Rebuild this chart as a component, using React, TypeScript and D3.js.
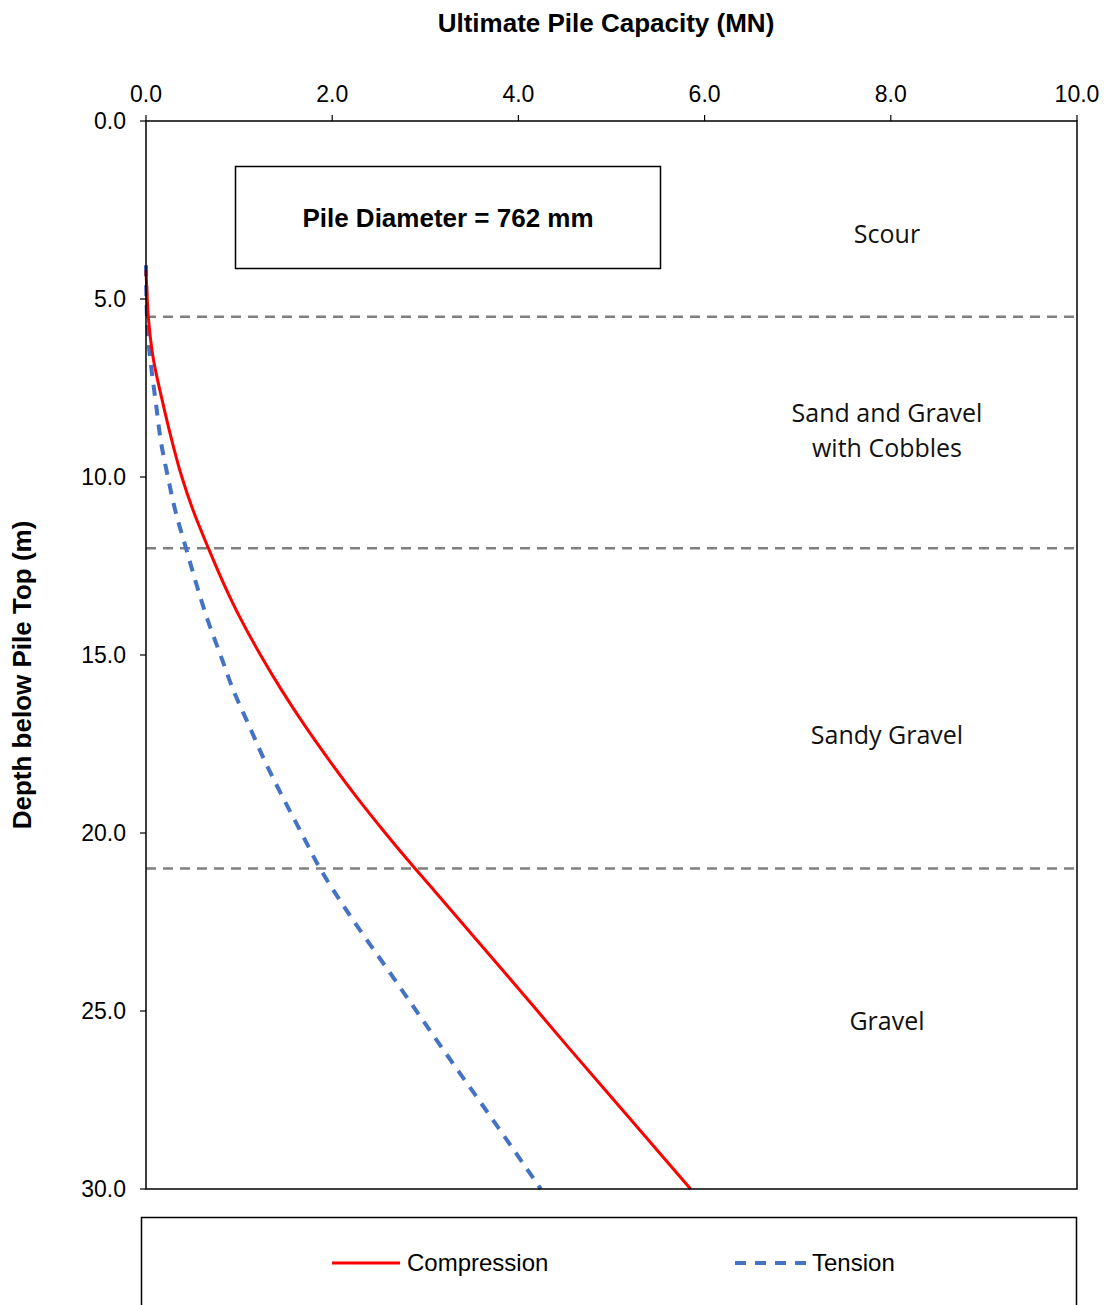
import React from "react";
import * as d3 from "d3";

// Capacity curves (depth in m, capacity in MN)
const compressionDepth = [4.2, 4.5, 5.5, 6.7, 7.8, 9, 10, 11, 12, 13, 14, 15, 16, 17, 18, 19, 20, 21, 21.6, 24, 26, 28, 30];
const compressionCap = [0, 0.005, 0.025, 0.08, 0.17, 0.28, 0.385, 0.515, 0.67, 0.835, 1.02, 1.23, 1.46, 1.71, 1.98, 2.265, 2.57, 2.89, 3.09, 3.88, 4.53, 5.19, 5.85];

const tensionDepth = [4.05, 5, 6, 7, 8, 9, 10, 11, 12, 13, 14, 15, 16, 17, 18, 19, 20, 21, 22, 24, 26, 28, 30];
const tensionCap = [0, 0.005, 0.02, 0.06, 0.11, 0.16, 0.235, 0.32, 0.43, 0.54, 0.66, 0.8, 0.94, 1.11, 1.28, 1.47, 1.67, 1.87, 2.11, 2.64, 3.17, 3.71, 4.24];

// Soil layer boundaries and labels
const layerBounds = [5.5, 12.0, 21.0];
const layerLabels = [
  { lines: ["Scour"], depth: 3.43 },
  { lines: ["Sand and Gravel", "with Cobbles"], depth: 8.46 },
  { lines: ["Sandy Gravel"], depth: 17.5 },
  { lines: ["Gravel"], depth: 25.53 },
];

const xTicks = [0, 2, 4, 6, 8, 10];
const yTicks = [0, 5, 10, 15, 20, 25, 30];

const W = 1104;
const H = 1305;
const left = 146, right = 1077, top = 121, bottom = 1189;

export default function App() {
  const x = d3.scaleLinear().domain([0, 10]).range([left, right]);
  const y = d3.scaleLinear().domain([0, 30]).range([top, bottom]);

  const line = d3
    .line<[number, number]>()
    .x((d) => x(d[0]))
    .y((d) => y(d[1]))
    .curve(d3.curveMonotoneY);

  const comp = line(compressionDepth.map((dep, i) => [compressionCap[i], dep]) as [number, number][]) || "";
  const tens = line(tensionDepth.map((dep, i) => [tensionCap[i], dep]) as [number, number][]) || "";

  const arial = "'Liberation Sans', Arial, sans-serif";
  const labelFont = "'Open Sans', 'Noto Sans', sans-serif";

  return (
    <svg
      width={W}
      height={H}
      style={{ position: "absolute", left: 0, top: 0, background: "#fff" }}
      fontFamily={arial}
    >
      <rect x={0} y={0} width={W} height={H} fill="#fff" />

      {/* Titles */}
      <text x={606} y={32} textAnchor="middle" fontSize={26} fontWeight="bold">
        Ultimate Pile Capacity (MN)
      </text>
      <text
        transform={`translate(31,${675}) rotate(-90)`}
        textAnchor="middle"
        fontSize={26}
        fontWeight="bold"
      >
        Depth below Pile Top (m)
      </text>

      {/* Layer boundaries */}
      {layerBounds.map((b) => (
        <line
          key={b}
          x1={left}
          x2={right}
          y1={y(b)}
          y2={y(b)}
          stroke="#808080"
          strokeWidth={2.5}
          strokeDasharray="10,7"
        />
      ))}

      {/* Layer labels */}
      {layerLabels.map((l) => (
        <text key={l.lines[0]} x={887} y={y(l.depth)} textAnchor="middle" fontSize={25} fontFamily={labelFont} fill="#111">
          {l.lines.map((t, i) => (
            <tspan key={t} x={887} dy={i === 0 ? 0 : 35}>
              {t}
            </tspan>
          ))}
        </text>
      ))}

      {/* Curves */}
      <path d={tens} fill="none" stroke="#4472C4" strokeWidth={4} strokeDasharray="11,9" />
      <path d={comp} fill="none" stroke="#FF0000" strokeWidth={3} />

      {/* Plot frame */}
      <rect x={left} y={top} width={right - left} height={bottom - top} fill="none" stroke="#000" strokeWidth={1.5} />

      {/* X axis (top) */}
      {xTicks.map((t) => (
        <g key={t}>
          <line x1={x(t)} x2={x(t)} y1={top} y2={top - 6} stroke="#000" strokeWidth={1.2} />
          <text x={x(t)} y={102} textAnchor="middle" fontSize={23}>
            {t.toFixed(1)}
          </text>
        </g>
      ))}

      {/* Y axis */}
      {yTicks.map((t) => (
        <g key={t}>
          <line x1={left} x2={left - 6} y1={y(t)} y2={y(t)} stroke="#000" strokeWidth={1.2} />
          <text x={126} y={y(t) + 8} textAnchor="end" fontSize={23}>
            {t.toFixed(1)}
          </text>
        </g>
      ))}

      {/* Annotation box */}
      <rect x={235.5} y={166.5} width={425} height={102} fill="#fff" stroke="#000" strokeWidth={1.5} />
      <text x={448} y={227} textAnchor="middle" fontSize={26} fontWeight="bold">
        Pile Diameter = 762 mm
      </text>

      {/* Legend */}
      <rect x={141.5} y={1217.5} width={935} height={100} fill="#fff" stroke="#000" strokeWidth={1.5} />
      <line x1={332} x2={400} y1={1263} y2={1263} stroke="#FF0000" strokeWidth={3} />
      <text x={407} y={1271} fontSize={24}>
        Compression
      </text>
      <line x1={735} x2={806} y1={1263} y2={1263} stroke="#4472C4" strokeWidth={4} strokeDasharray="11,9" />
      <text x={812} y={1271} fontSize={24}>
        Tension
      </text>
    </svg>
  );
}
